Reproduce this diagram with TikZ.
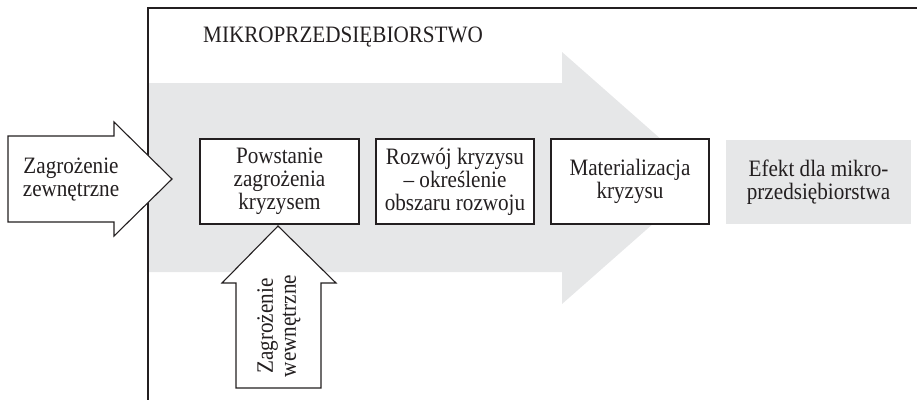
\documentclass[tikz,border=0pt]{standalone}
\usepackage{fontspec}
\setmainfont[FakeStretch=0.9]{Liberation Serif}
\definecolor{bandgray}{HTML}{E6E7E8}
\definecolor{ink}{HTML}{231F20}
\tikzset{
  txt/.style={font=\fontsize{23.5}{23}\selectfont, text=ink, align=center, inner sep=0pt},
  stepbox/.style={txt, draw=ink, line width=1.1pt, fill=white, minimum height=85pt},
  effbox/.style={txt, fill=bandgray, minimum height=84pt, minimum width=185pt},
  outline/.style={draw=ink, line width=1.1pt, fill=white, line join=miter},
}
\begin{document}
\begin{tikzpicture}[x=1pt,y=-1pt]
\useasboundingbox (0,0) rectangle (917,400);
% big grey process arrow
\fill[bandgray] (148,83) -- (562,83) -- (562,52) -- (705,178) -- (562,304) -- (562,272) -- (148,272) -- cycle;
% frame of the enterprise
\draw[ink, line width=1.2pt] (917,8) -- (148,8) -- (148,400);
\node[txt, anchor=west] (title) at (203,37) {MIKROPRZEDSIĘBIORSTWO};
% steps
\node[stepbox, minimum width=159pt] (s1) at (279.5,181.5) {Powstanie\\zagrożenia\\kryzysem};
\node[stepbox, minimum width=158pt] (s2) at (455,181.5) {Rozwój kryzysu\\– określenie\\obszaru rozwoju};
\node[stepbox, minimum width=158pt] (s3) at (630,181.5) {Materializacja\\kryzysu};
\node[effbox] (eff) at (818.5,182) {Efekt dla mikro-\\przedsiębiorstwa};
% external threat arrow
\draw[outline] (8,136) -- (114,136) -- (114,122) -- (172,179) -- (114,236) -- (114,222) -- (8,222) -- cycle;
\node[txt] (ext) at (71,180) {Zagrożenie\\zewnętrzne};
% internal threat arrow
\draw[outline] (236,388) -- (236,283) -- (222,283) -- (278,226) -- (336,283) -- (321,283) -- (321,388) -- cycle;
\node[txt, rotate=90] (int) at (279,326) {Zagrożenie\\wewnętrzne};
\end{tikzpicture}
\end{document}
